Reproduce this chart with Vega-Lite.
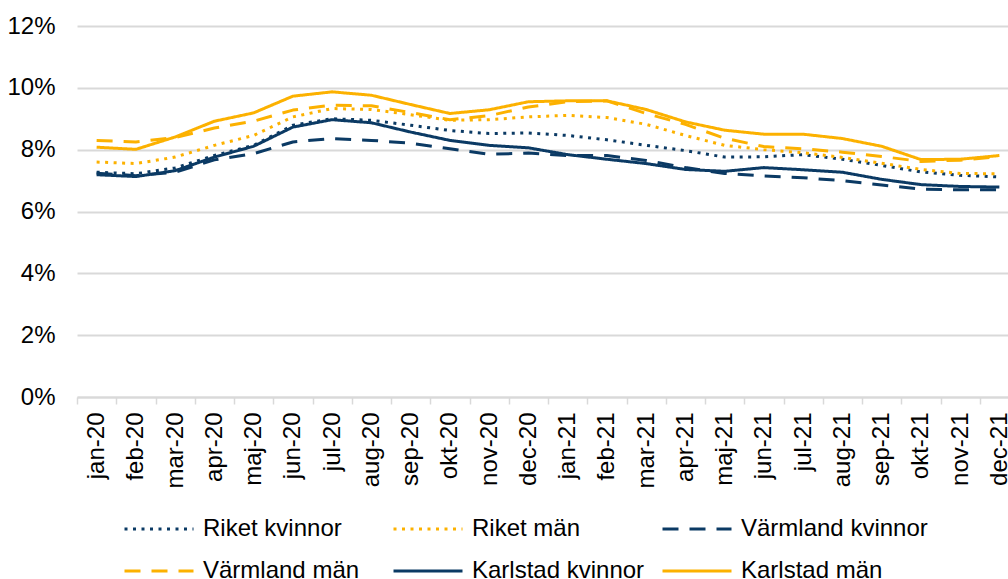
{
  "$schema": "https://vega.github.io/schema/vega-lite/v6.json",
  "autosize": "none",
  "padding": {"left": 77, "top": 26, "right": 0, "bottom": 182},
  "width": 931,
  "height": 371,
  "background": "#ffffff",
  "config": {
    "view": {"stroke": null},
    "font": "Liberation Sans",
    "axis": {"labelFont": "Liberation Sans", "labelFontSize": 24, "labelColor": "#000000", "title": null},
    "legend": {
      "orient": "none",
      "direction": "horizontal",
      "legendX": 69,
      "legendY": 490,
      "columns": 3,
      "gridAlign": "all",
      "columnPadding": -3,
      "rowPadding": 17,
      "symbolType": "M-3,0H3",
      "symbolSize": 529,
      "symbolStrokeWidth": 3,
      "labelOffset": 31,
      "labelFont": "Liberation Sans",
      "labelFontSize": 24,
      "labelColor": "#000000",
      "labelLimit": 400,
      "title": null
    }
  },
  "data": {
    "values": [
      {"m": "jan-20", "s": "Riket kvinnor", "v": 7.27}, {"m": "feb-20", "s": "Riket kvinnor", "v": 7.22}, {"m": "mar-20", "s": "Riket kvinnor", "v": 7.41}, {"m": "apr-20", "s": "Riket kvinnor", "v": 7.81}, {"m": "maj-20", "s": "Riket kvinnor", "v": 8.14}, {"m": "jun-20", "s": "Riket kvinnor", "v": 8.79}, {"m": "jul-20", "s": "Riket kvinnor", "v": 9.0}, {"m": "aug-20", "s": "Riket kvinnor", "v": 8.95}, {"m": "sep-20", "s": "Riket kvinnor", "v": 8.79}, {"m": "okt-20", "s": "Riket kvinnor", "v": 8.62}, {"m": "nov-20", "s": "Riket kvinnor", "v": 8.52}, {"m": "dec-20", "s": "Riket kvinnor", "v": 8.54},
      {"m": "jan-21", "s": "Riket kvinnor", "v": 8.46}, {"m": "feb-21", "s": "Riket kvinnor", "v": 8.32}, {"m": "mar-21", "s": "Riket kvinnor", "v": 8.14}, {"m": "apr-21", "s": "Riket kvinnor", "v": 7.97}, {"m": "maj-21", "s": "Riket kvinnor", "v": 7.76}, {"m": "jun-21", "s": "Riket kvinnor", "v": 7.77}, {"m": "jul-21", "s": "Riket kvinnor", "v": 7.84}, {"m": "aug-21", "s": "Riket kvinnor", "v": 7.69}, {"m": "sep-21", "s": "Riket kvinnor", "v": 7.49}, {"m": "okt-21", "s": "Riket kvinnor", "v": 7.28}, {"m": "nov-21", "s": "Riket kvinnor", "v": 7.17}, {"m": "dec-21", "s": "Riket kvinnor", "v": 7.12},

      {"m": "jan-20", "s": "Riket män", "v": 7.6}, {"m": "feb-20", "s": "Riket män", "v": 7.55}, {"m": "mar-20", "s": "Riket män", "v": 7.76}, {"m": "apr-20", "s": "Riket män", "v": 8.14}, {"m": "maj-20", "s": "Riket män", "v": 8.46}, {"m": "jun-20", "s": "Riket män", "v": 9.06}, {"m": "jul-20", "s": "Riket män", "v": 9.33}, {"m": "aug-20", "s": "Riket män", "v": 9.3}, {"m": "sep-20", "s": "Riket män", "v": 9.13}, {"m": "okt-20", "s": "Riket män", "v": 8.95}, {"m": "nov-20", "s": "Riket män", "v": 8.97}, {"m": "dec-20", "s": "Riket män", "v": 9.06},
      {"m": "jan-21", "s": "Riket män", "v": 9.11}, {"m": "feb-21", "s": "Riket män", "v": 9.04}, {"m": "mar-21", "s": "Riket män", "v": 8.82}, {"m": "apr-21", "s": "Riket män", "v": 8.46}, {"m": "maj-21", "s": "Riket män", "v": 8.14}, {"m": "jun-21", "s": "Riket män", "v": 8.0}, {"m": "jul-21", "s": "Riket män", "v": 7.9}, {"m": "aug-21", "s": "Riket män", "v": 7.75}, {"m": "sep-21", "s": "Riket män", "v": 7.56}, {"m": "okt-21", "s": "Riket män", "v": 7.36}, {"m": "nov-21", "s": "Riket män", "v": 7.23}, {"m": "dec-21", "s": "Riket män", "v": 7.22},

      {"m": "jan-20", "s": "Värmland kvinnor", "v": 7.24}, {"m": "feb-20", "s": "Värmland kvinnor", "v": 7.16}, {"m": "mar-20", "s": "Värmland kvinnor", "v": 7.27}, {"m": "apr-20", "s": "Värmland kvinnor", "v": 7.67}, {"m": "maj-20", "s": "Värmland kvinnor", "v": 7.87}, {"m": "jun-20", "s": "Värmland kvinnor", "v": 8.25}, {"m": "jul-20", "s": "Värmland kvinnor", "v": 8.36}, {"m": "aug-20", "s": "Värmland kvinnor", "v": 8.3}, {"m": "sep-20", "s": "Värmland kvinnor", "v": 8.21}, {"m": "okt-20", "s": "Värmland kvinnor", "v": 8.03}, {"m": "nov-20", "s": "Värmland kvinnor", "v": 7.85}, {"m": "dec-20", "s": "Värmland kvinnor", "v": 7.89},
      {"m": "jan-21", "s": "Värmland kvinnor", "v": 7.81}, {"m": "feb-21", "s": "Värmland kvinnor", "v": 7.81}, {"m": "mar-21", "s": "Värmland kvinnor", "v": 7.65}, {"m": "apr-21", "s": "Värmland kvinnor", "v": 7.42}, {"m": "maj-21", "s": "Värmland kvinnor", "v": 7.23}, {"m": "jun-21", "s": "Värmland kvinnor", "v": 7.15}, {"m": "jul-21", "s": "Värmland kvinnor", "v": 7.09}, {"m": "aug-21", "s": "Värmland kvinnor", "v": 7.0}, {"m": "sep-21", "s": "Värmland kvinnor", "v": 6.86}, {"m": "okt-21", "s": "Värmland kvinnor", "v": 6.72}, {"m": "nov-21", "s": "Värmland kvinnor", "v": 6.7}, {"m": "dec-21", "s": "Värmland kvinnor", "v": 6.7},

      {"m": "jan-20", "s": "Värmland män", "v": 8.3}, {"m": "feb-20", "s": "Värmland män", "v": 8.25}, {"m": "mar-20", "s": "Värmland män", "v": 8.39}, {"m": "apr-20", "s": "Värmland män", "v": 8.7}, {"m": "maj-20", "s": "Värmland män", "v": 8.92}, {"m": "jun-20", "s": "Värmland män", "v": 9.28}, {"m": "jul-20", "s": "Värmland män", "v": 9.44}, {"m": "aug-20", "s": "Värmland män", "v": 9.42}, {"m": "sep-20", "s": "Värmland män", "v": 9.2}, {"m": "okt-20", "s": "Värmland män", "v": 8.97}, {"m": "nov-20", "s": "Värmland män", "v": 9.1}, {"m": "dec-20", "s": "Värmland män", "v": 9.38},
      {"m": "jan-21", "s": "Värmland män", "v": 9.55}, {"m": "feb-21", "s": "Värmland män", "v": 9.58}, {"m": "mar-21", "s": "Värmland män", "v": 9.17}, {"m": "apr-21", "s": "Värmland män", "v": 8.82}, {"m": "maj-21", "s": "Värmland män", "v": 8.37}, {"m": "jun-21", "s": "Värmland män", "v": 8.1}, {"m": "jul-21", "s": "Värmland män", "v": 8.03}, {"m": "aug-21", "s": "Värmland män", "v": 7.92}, {"m": "sep-21", "s": "Värmland män", "v": 7.78}, {"m": "okt-21", "s": "Värmland män", "v": 7.62}, {"m": "nov-21", "s": "Värmland män", "v": 7.66}, {"m": "dec-21", "s": "Värmland män", "v": 7.78},

      {"m": "jan-20", "s": "Karlstad kvinnor", "v": 7.19}, {"m": "feb-20", "s": "Karlstad kvinnor", "v": 7.13}, {"m": "mar-20", "s": "Karlstad kvinnor", "v": 7.32}, {"m": "apr-20", "s": "Karlstad kvinnor", "v": 7.76}, {"m": "maj-20", "s": "Karlstad kvinnor", "v": 8.11}, {"m": "jun-20", "s": "Karlstad kvinnor", "v": 8.73}, {"m": "jul-20", "s": "Karlstad kvinnor", "v": 8.97}, {"m": "aug-20", "s": "Karlstad kvinnor", "v": 8.87}, {"m": "sep-20", "s": "Karlstad kvinnor", "v": 8.57}, {"m": "okt-20", "s": "Karlstad kvinnor", "v": 8.3}, {"m": "nov-20", "s": "Karlstad kvinnor", "v": 8.14}, {"m": "dec-20", "s": "Karlstad kvinnor", "v": 8.06},
      {"m": "jan-21", "s": "Karlstad kvinnor", "v": 7.84}, {"m": "feb-21", "s": "Karlstad kvinnor", "v": 7.69}, {"m": "mar-21", "s": "Karlstad kvinnor", "v": 7.55}, {"m": "apr-21", "s": "Karlstad kvinnor", "v": 7.36}, {"m": "maj-21", "s": "Karlstad kvinnor", "v": 7.3}, {"m": "jun-21", "s": "Karlstad kvinnor", "v": 7.42}, {"m": "jul-21", "s": "Karlstad kvinnor", "v": 7.35}, {"m": "aug-21", "s": "Karlstad kvinnor", "v": 7.27}, {"m": "sep-21", "s": "Karlstad kvinnor", "v": 7.04}, {"m": "okt-21", "s": "Karlstad kvinnor", "v": 6.87}, {"m": "nov-21", "s": "Karlstad kvinnor", "v": 6.81}, {"m": "dec-21", "s": "Karlstad kvinnor", "v": 6.79},

      {"m": "jan-20", "s": "Karlstad män", "v": 8.08}, {"m": "feb-20", "s": "Karlstad män", "v": 8.01}, {"m": "mar-20", "s": "Karlstad män", "v": 8.41}, {"m": "apr-20", "s": "Karlstad män", "v": 8.92}, {"m": "maj-20", "s": "Karlstad män", "v": 9.19}, {"m": "jun-20", "s": "Karlstad män", "v": 9.73}, {"m": "jul-20", "s": "Karlstad män", "v": 9.87}, {"m": "aug-20", "s": "Karlstad män", "v": 9.76}, {"m": "sep-20", "s": "Karlstad män", "v": 9.46}, {"m": "okt-20", "s": "Karlstad män", "v": 9.17}, {"m": "nov-20", "s": "Karlstad män", "v": 9.29}, {"m": "dec-20", "s": "Karlstad män", "v": 9.55},
      {"m": "jan-21", "s": "Karlstad män", "v": 9.58}, {"m": "feb-21", "s": "Karlstad män", "v": 9.58}, {"m": "mar-21", "s": "Karlstad män", "v": 9.3}, {"m": "apr-21", "s": "Karlstad män", "v": 8.9}, {"m": "maj-21", "s": "Karlstad män", "v": 8.63}, {"m": "jun-21", "s": "Karlstad män", "v": 8.5}, {"m": "jul-21", "s": "Karlstad män", "v": 8.5}, {"m": "aug-21", "s": "Karlstad män", "v": 8.36}, {"m": "sep-21", "s": "Karlstad män", "v": 8.11}, {"m": "okt-21", "s": "Karlstad män", "v": 7.68}, {"m": "nov-21", "s": "Karlstad män", "v": 7.69}, {"m": "dec-21", "s": "Karlstad män", "v": 7.81}
    ]
  },
  "mark": {"type": "line", "strokeWidth": 3, "strokeCap": "butt", "strokeJoin": "round"},
  "encoding": {
    "x": {
      "field": "m",
      "type": "ordinal",
      "sort": null,
      "scale": {"type": "band", "paddingInner": 0, "paddingOuter": 0, "range": [0, 942]},
      "axis": {
        "labelAngle": -90,
        "tickBand": "extent",
        "tickColor": "#d9d9d9",
        "tickSize": 7,
        "tickWidth": 1.5,
        "domainColor": "#d9d9d9",
        "domainWidth": 2,
        "labelPadding": 8,
        "grid": false
      }
    },
    "y": {
      "field": "v",
      "type": "quantitative",
      "scale": {"domain": [0, 12], "nice": false, "zero": true},
      "axis": {
        "values": [0, 2, 4, 6, 8, 10, 12],
        "labelExpr": "datum.value + '%'",
        "grid": true,
        "gridColor": "#d9d9d9",
        "gridWidth": 2,
        "domain": false,
        "ticks": false,
        "tickSize": 0,
        "labelPadding": 22
      }
    },
    "color": {
      "field": "s",
      "type": "nominal",
      "title": null,
      "scale": {
        "domain": ["Riket kvinnor", "Riket män", "Värmland kvinnor", "Värmland män", "Karlstad kvinnor", "Karlstad män"],
        "range": ["#0B3A64", "#FCB100", "#0B3A64", "#FCB100", "#0B3A64", "#FCB100"]
      }
    },
    "strokeDash": {
      "field": "s",
      "type": "nominal",
      "title": null,
      "scale": {
        "domain": ["Riket kvinnor", "Riket män", "Värmland kvinnor", "Värmland män", "Karlstad kvinnor", "Karlstad män"],
        "range": [[3, 5.5], [3, 5.5], [16, 11], [16, 11], [1, 0], [1, 0]]
      }
    }
  }
}
